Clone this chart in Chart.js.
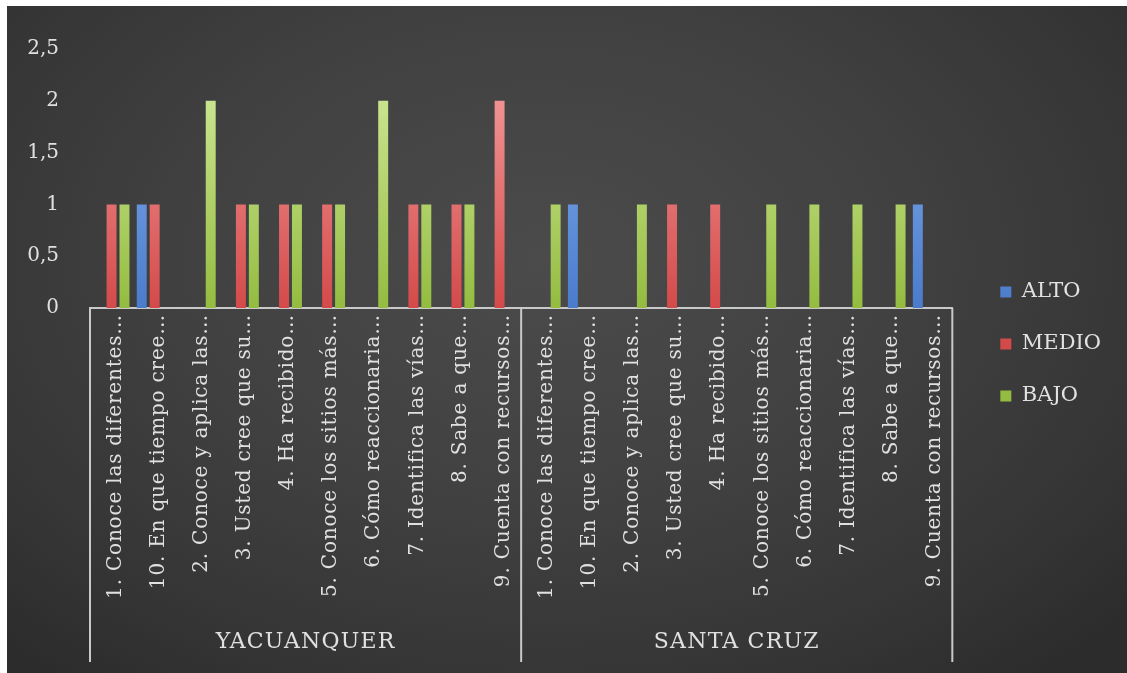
<!DOCTYPE html>
<html>
<head>
<meta charset="utf-8">
<script src="https://cdn.jsdelivr.net/npm/chart.js@4"></script>
<style>
  html, body { margin: 0; padding: 0; background: #ffffff; }
  #wrap {
    position: absolute; left: 7px; top: 6px; width: 1120px; height: 667px;
    background: radial-gradient(ellipse 70% 80% at 48% 38%, #4b4b4b 0%, #414141 45%, #353535 80%, #2c2c2c 100%);
  }
</style>
</head>
<body>
<div id="wrap"><canvas id="chart" width="1120" height="667"></canvas></div>
<script>
const preguntas = [
    '1. Conoce las diferentes…',
    '10. En que tiempo cree…',
    '2. Conoce y aplica las…',
    '3. Usted cree que su…',
    '4. Ha recibido…',
    '5. Conoce los sitios más…',
    '6. Cómo reaccionaria…',
    '7. Identifica las vías…',
    '8. Sabe a que…',
    '9. Cuenta con recursos…'
];
const grupos = ['YACUANQUER', 'SANTA CRUZ'];

// YACUANQUER (10) + SANTA CRUZ (10)
const alto  = [0, 1, 0, 0, 0, 0, 0, 0, 0, 0,   0, 1, 0, 0, 0, 0, 0, 0, 0, 1];
const medio = [1, 1, 0, 1, 1, 1, 0, 1, 1, 2,   0, 0, 0, 1, 1, 0, 0, 0, 0, 0];
const bajo  = [1, 0, 2, 1, 1, 1, 2, 1, 1, 0,   1, 0, 1, 0, 0, 1, 1, 1, 1, 0];

const yTicks = [0, 0.5, 1, 1.5, 2, 2.5];

const labels = [];
grupos.forEach(() => preguntas.forEach(p => labels.push(p)));

const fuente = "'DejaVu Serif', serif";
const textoColor = '#e0e0e0';
const lineaColor = '#c9c9c9';
const extraLinea = 12; // las líneas de grupo bajan un poco más que el eje

function degradado(top, bottom) {
    return function(context) {
        const area = context.chart.chartArea;
        if (!area) return bottom;
        const g = context.chart.ctx.createLinearGradient(0, area.top, 0, area.bottom);
        g.addColorStop(0, top);
        g.addColorStop(1, bottom);
        return g;
    };
}

// etiquetas giradas, separadores y nombres de los grupos bajo el eje
const gruposPlugin = {
    id: 'grupos',
    afterDraw(chart) {
        const x = chart.scales.x;
        const ctx = chart.ctx;
        const n = preguntas.length;
        const paso = x.width / labels.length;
        const fondo = x.bottom + extraLinea;
        ctx.save();

        ctx.fillStyle = textoColor;
        ctx.font = "20px " + fuente;
        ctx.letterSpacing = '0.8px';
        ctx.textAlign = 'right';
        ctx.textBaseline = 'middle';
        labels.forEach((txt, i) => {
            ctx.save();
            ctx.translate(x.getPixelForValue(i) + 4, x.top + 6);
            ctx.rotate(-Math.PI / 2);
            ctx.fillText(txt, 0, 0);
            ctx.restore();
        });

        ctx.strokeStyle = lineaColor;
        ctx.lineWidth = 2;
        for (let g = 0; g <= grupos.length; g++) {
            const px = x.left + g * n * paso;
            ctx.beginPath();
            ctx.moveTo(px, x.top);
            ctx.lineTo(px, fondo);
            ctx.stroke();
        }

        ctx.font = "22px " + fuente;
        ctx.letterSpacing = '1.2px';
        ctx.textAlign = 'center';
        grupos.forEach((nombre, g) => {
            const a = x.getPixelForValue(g * n) - paso / 2;
            const b = x.getPixelForValue(g * n + n - 1) + paso / 2;
            ctx.fillText(nombre, (a + b) / 2, fondo - 20);
        });
        ctx.restore();
    }
};

const ctx = document.getElementById('chart').getContext('2d');

new Chart(ctx, {
    type: 'bar',
    data: {
        labels: labels,
        datasets: [{
            label: 'ALTO',
            data: alto,
            backgroundColor: degradado('#8cb4f2', '#4a7ccc'),
            borderWidth: 0
        }, {
            label: 'MEDIO',
            data: medio,
            backgroundColor: degradado('#f6a4a4', '#d44a4a'),
            borderWidth: 0
        }, {
            label: 'BAJO',
            data: bajo,
            backgroundColor: degradado('#d6eea2', '#94bc40'),
            borderWidth: 0
        }]
    },
    options: {
        responsive: false,
        animation: false,
        categoryPercentage: 0.9,
        barPercentage: 0.77,
        layout: {
            padding: { top: 32, bottom: 23, left: 0, right: 16 }
        },
        scales: {
            x: {
                grid: { display: false, drawTicks: false },
                border: { display: true, color: lineaColor, width: 2 },
                ticks: { display: false },
                afterFit(scale) { scale.height = 342; }
            },
            y: {
                min: 0,
                max: 2.5,
                grid: { display: false, drawTicks: false },
                border: { display: false },
                afterBuildTicks(scale) { scale.ticks = yTicks.map(v => ({ value: v })); },
                ticks: {
                    padding: 31,
                    color: textoColor,
                    font: { family: fuente, size: 20 },
                    callback: v => String(v).replace('.', ',')
                },
                afterFit(scale) { scale.width = 83; }
            },
            hueco: {
                type: 'linear',
                position: 'right',
                grid: { display: false, drawTicks: false },
                border: { display: false },
                ticks: { display: false },
                afterFit(scale) { scale.width = 17; }
            }
        },
        plugins: {
            legend: {
                position: 'right',
                labels: {
                    color: '#e2e2e2',
                    boxWidth: 11,
                    boxHeight: 11,
                    padding: 31,
                    font: { family: fuente, size: 21 }
                }
            },
            tooltip: { enabled: false }
        }
    },
    plugins: [gruposPlugin]
});
</script>
</body>
</html>
